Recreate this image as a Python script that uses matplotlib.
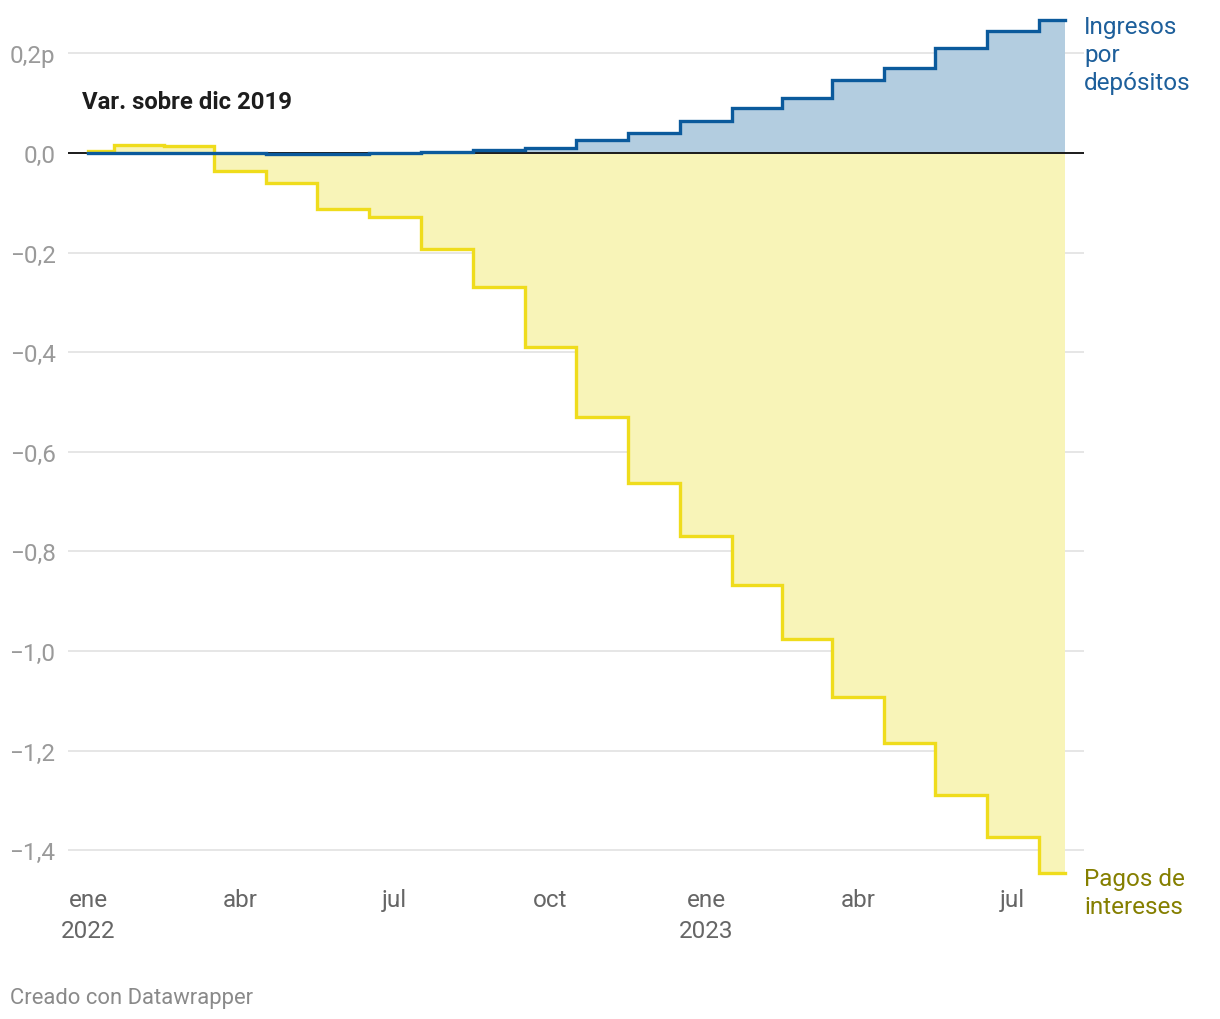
import numpy as np
import matplotlib
matplotlib.use("Agg")
import matplotlib.pyplot as plt
import matplotlib.dates as mdates
from matplotlib.transforms import blended_transform_factory

plt.rcParams['font.family'] = ['Roboto', 'DejaVu Sans']

# monthly values, Jan 2022 .. Aug 2023 (var. sobre dic 2019, p.p.)
months = np.arange("2022-01", "2023-09", dtype="datetime64[M]")
ingresos = [0.0, 0.0, -0.001, -0.001, -0.002, -0.002, -0.001, 0.002, 0.005, 0.009,
            0.026, 0.040, 0.064, 0.090, 0.110, 0.146, 0.171, 0.211, 0.244, 0.266]
pagos = [0.003, 0.015, 0.014, -0.037, -0.060, -0.112, -0.128, -0.193, -0.269, -0.390,
         -0.530, -0.663, -0.769, -0.867, -0.976, -1.092, -1.185, -1.289, -1.374, -1.446]

xtick_dates = ["2022-01", "2022-04", "2022-07", "2022-10", "2023-01", "2023-04", "2023-07"]
xtick_lab = ["ene", "abr", "jul", "oct", "ene", "abr", "jul"]
year_dates = ["2022-01", "2023-01"]
year_lab = ["2022", "2023"]
ytick_pos = [0.2, 0.0, -0.2, -0.4, -0.6, -0.8, -1.0, -1.2, -1.4]
ytick_lab = ["0,2p", "0,0", "−0,2", "−0,4", "−0,6", "−0,8", "−1,0", "−1,2", "−1,4"]

BLUE = "#0b5a9c"
BLUE_FILL = "#b3cde0"
YELLOW = "#efdc1c"
YELLOW_FILL = "#f8f4b8"
FS = 17.5

x = mdates.date2num(months.astype("datetime64[D]"))

fig = plt.figure(figsize=(12.2, 10.2), dpi=100)
ax = fig.add_axes([68 / 1220, 1 - 901 / 1020, (1084 - 68) / 1220, 891 / 1020])

ax.fill_between(x, pagos, 0, step="mid", color=YELLOW_FILL, lw=0, zorder=1)
ax.fill_between(x, ingresos, 0, step="mid", color=BLUE_FILL, lw=0, zorder=1)
for yv in ytick_pos:
    if yv != 0:
        ax.axhline(yv, color="#e2e2e2", lw=1.2, zorder=0)
ax.axhline(0, color="#1a1a1a", lw=1.4, zorder=2)
ax.step(x, pagos, where="mid", color=YELLOW, lw=2.4, zorder=3, solid_joinstyle="miter")
ax.step(x, ingresos, where="mid", color=BLUE, lw=2.4, zorder=4, solid_joinstyle="miter")

px_day = (1065 - 88) / (x[-1] - x[0])
ax.set_xlim(x[0] - 20 / px_day, x[-1] + 19 / px_day)
ax.set_ylim(-1.5, 0.289)
for s in ax.spines.values():
    s.set_visible(False)
ax.set_xticks([])
ax.set_yticks(ytick_pos)
ax.set_yticklabels(ytick_lab, color="#9a9a9a", fontsize=FS)
ax.tick_params(axis="y", length=0, pad=9)

tr = blended_transform_factory(ax.transData, fig.transFigure)
to_num = lambda d: mdates.date2num(np.datetime64(d + "-01"))
for d, lab in zip(xtick_dates, xtick_lab):
    ax.text(to_num(d), 1 - 907 / 1020, lab, transform=tr, ha="center", va="baseline",
            fontsize=FS, color="#666666")
for d, lab in zip(year_dates, year_lab):
    ax.text(to_num(d), 1 - 938 / 1020, lab, transform=tr, ha="center", va="baseline",
            fontsize=FS, color="#666666")

fig.text(82 / 1220, 1 - 109 / 1020, "Var. sobre dic 2019", fontsize=17.2,
         fontweight="bold", color="#1d1d1d", va="baseline", ha="left")
for i, line in enumerate(["Ingresos", "por", "depósitos"]):
    fig.text(1084 / 1220, 1 - (34 + 28 * i) / 1020, line, fontsize=FS,
             color="#1d5f9b", va="baseline", ha="left")
for i, line in enumerate(["Pagos de", "intereses"]):
    fig.text(1084 / 1220, 1 - (886 + 28 * i) / 1020, line, fontsize=FS,
             color="#857f00", va="baseline", ha="left")
fig.text(10 / 1220, 1 - 1004 / 1020, "Creado con Datawrapper", fontsize=15.8,
         color="#8a8a8a", va="baseline", ha="left")

fig.savefig("out.png", dpi=100, facecolor="white")
